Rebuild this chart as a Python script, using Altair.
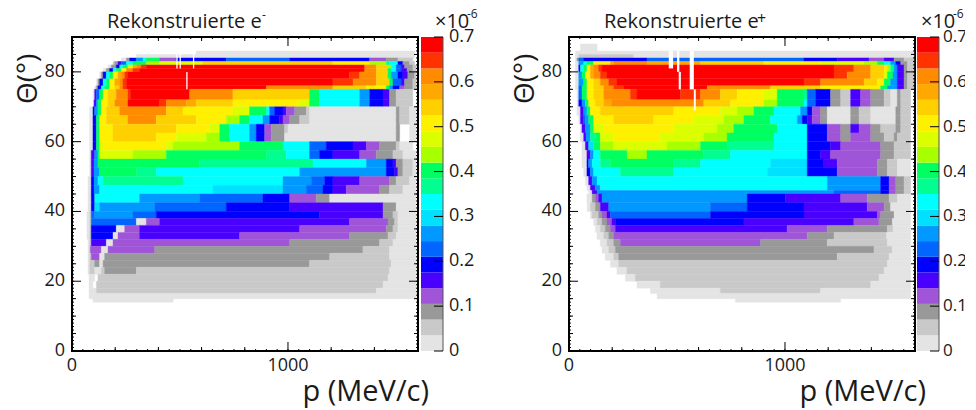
import re
import altair as alt
import pandas as pd

# Colour levels (lowest to highest), each 0.035 x 10^-6 wide
LEVEL_KEYS = list("abcdefghijklmnopqrst")
LEVEL_COLORS = ["#e4e4e4", "#c9c9c9", "#999999", "#a055d8", "#4a00ff", "#0000ff", "#0066ff", "#0099ff",
                "#00e0ff", "#00ffff", "#00ff90", "#00ff60", "#a8ff00", "#dcff00", "#fff000", "#ffd000",
                "#ffa800", "#ff8c00", "#ff3300", "#ff0000"]

# theta band edges (deg) and p runs (MeV/c) "start+level", "." = empty
E_EDGES = [86, 85, 84, 83, 82, 81, 80, 78, 76, 75, 72, 70, 67.5, 65, 62.5, 60, 57.5, 55, 52.5, 50, 47.5, 45, 42.5,
           40, 38, 36, 34, 32, 30, 28, 26, 24, 22, 20, 18, 16.5, 15, 14]
E_RUNS = [
    "575a 1586.",
    "298a 1586.",
    "228a 252c 267f 298h 329j 344l 406d 483f 714g 1008f 1378d 1455c 1509b 1578.",
    "190b 198c 213e 228g 252j 282l 344m 406n 606p 1208o 1378m 1455k 1470j 1509f 1532c 1563b 1586.",
    "167a 182c 205f 221j 236l 259n 282q 300r 320s 344t 1355r 1409p 1463m 1478j 1501g 1524e 1540c 1578b 1594.",
    "144a 159c 174f 190j 205l 228o 252r 282s 313t 1355r 1409p 1463l 1478j 1501g 1524e 1551c 1578b 1594.",
    "128a 136c 144f 159j 174l 190o 213q 228r 244s 259t 1285s 1332r 1409p 1463l 1478h 1509f 1532e 1555c 1586b 1594.",
    "113a 120c 128f 144j 159l 174o 198q 221r 236s 252t 1208s 1301r 1409p 1470l 1486g 1524e 1540c 1578b 1594.",
    "105a 113c 120f 136j 151l 174o 198p 221r 236s 252t 900r 1208p 1363o 1455l 1470h 1486f 1517d 1540c 1578b 1594.",
    "97a 105e 113g 128l 144o 167p 205r 259s 270t 545r 745p 1100l 1146j 1332h 1378f 1440e 1470c 1501b 1578.",
    "97a 102e 113h 120l 136o 167p 198r 259t 406s 437r 529q 575p 745o 1054n 1100l 1146j 1332h 1378f 1440e 1470c 1501b 1578.",
    "82a 97f 105h 120l 136o 159p 221r 437p 514o 745n 822l 900j 915g 938f 977e 992d 1031c 1085b 1100a 1501c 1517b 1563a 1594.",
    "82a 97f 113l 128o 159p 259r 390p 575o 714m 776l 822j 884h 915f 961e 977d 1008c 1054b 1100a 1501c 1517b 1563a 1594.",
    "82a 97f 113l 128o 190p 483o 637n 684l 730j 822h 853f 892d 923c 984b 1000a 1501c 1517. 1563a 1594.",
    "82a 97f 113l 128o 190p 390o 483n 622m 684l 730j 822h 853f 892d 923c 984a 1501c 1517. 1563a 1594.",
    "82a 97f 113l 128n 144o 437n 468m 776l 977j 1100g 1177f 1301e 1363d 1424c 1501b 1517a 1578.",
    "82a 89e 105h 120l 128n 282m 437l 900k 992j 1100g 1146f 1208e 1332d 1409c 1486b 1532a 1594.",
    "82a 89e 102h 120l 591k 1116j 1363h 1455f 1486e 1501c 1532b 1578a 1594.",
    "82a 89e 102h 128l 300k 390j 1054h 1455f 1494e 1509c 1532b 1578a 1594.",
    "74a 89f 102h 120j 144k 514j 977h 1108g 1170f 1208e 1332d 1470c 1501b 1563a 1594.",
    "74a 89f 102h 128j 653i 977h 1085g 1162f 1208e 1270d 1424c 1470b 1532a 1594.",
    "74a 89f 105j 313h 591g 884f 1008d 1131c 1193a 1594.",
    "74a 89f 105i 128h 383g 714f 1008e 1440c 1501a 1594.",
    "69a 82b 89g 105h 282g 390f 1146e 1440c 1486b 1509a 1594.",
    "69a 82b 89g 298a 344d 406e 1285d 1463c 1494b 1509a 1594.",
    "69a 82b 89f 205a 244d 313e 1054d 1455c 1486b 1509a 1594.",
    "69a 82b 89f 190a 213d 313e 776d 1285c 1463b 1501a 1594.",
    "74a 82b 89e 159a 190d 1008c 1424b 1486a 1594.",
    "74a 82b 85d 136a 167d 383c 1347b 1470a 1594.",
    "74a 82b 89d 128a 151c 1193b 1470a 1594.",
    "74a 82b 105c 128a 144c 1100b 1478a 1594.",
    "74a 82b 105a 136b 151c 298b 1470a 1594.",
    "79a 105. 120b 1463a 1594.",
    "79a 97. 113b 1440a 1594.",
    "79a 113b 1409a 1594.",
    "79a 1594.",
    "97a 468.",
]
E_GAPS = [(483, 489, 81, 86), (498, 504, 81, 86), (560, 566, 81, 86), (529, 535, 75, 80)]

P_EDGES = [88, 86, 85, 84, 83, 82, 80, 78, 76, 75, 72, 70, 67.5, 65, 62.5, 60, 57.5, 55, 52.5, 50, 47.5, 46, 45, 42.5,
           40, 38, 36, 34, 32, 30, 28, 26, 24, 22, 20, 18, 16.5, 15, 14]
P_RUNS = [
    "53a 130.",
    "30a 1597.",
    "30a 45b 300a 1597.",
    "30a 37c 45g 68f 361g 1088f 1242e 1389d 1459e 1505c 1551b 1597.",
    "30a 45h 68j 83l 114o 192q 207r 361q 609p 902o 1165n 1366m 1428l 1459j 1489h 1513f 1536c 1567b 1597.",
    "30a 45f 53j 68l 83o 99q 114r 137s 153t 1227s 1319r 1397p 1459o 1474m 1489k 1505h 1520e 1551c 1567b 1597.",
    "30a 45h 60l 76o 99q 114r 145s 176t 1227s 1288r 1397p 1459n 1474l 1500h 1520e 1551c 1567b 1597.",
    "30a 45h 68l 83o 114p 145r 184s 222t 1088s 1165r 1366p 1428o 1459l 1489h 1520e 1551c 1567b 1597.",
    "30a 45g 60l 83o 114p 161r 207s 253t 640r 933p 1165o 1443l 1474h 1520e 1551c 1567b 1597.",
    "37a 45g 60l 83o 114p 161r 284s 315t 516s 609r 701p 779o 902n 964l 1088k 1103g 1142f 1211c 1258b 1304e 1350d 1397c 1459b 1489a 1520c 1536b 1582.",
    "37a 45f 60h 76l 91o 122p 161q 199r 624p 748o 902m 964l 1088j 1103g 1142f 1211c 1258b 1304e 1350d 1397c 1459b 1489a 1520c 1536b 1582.",
    "37a 53e 68h 83l 99o 145p 485o 701n 779m 856l 949j 1072h 1103f 1126d 1165c 1196a 1304c 1343b 1397a 1513c 1536b 1582.",
    "45a 53e 68g 76h 91l 114o 207p 392o 578n 717m 810l 933j 1057h 1080f 1103e 1126d 1165c 1196a 1304c 1343b 1397a 1513c 1536b 1582.",
    "53a 60e 76h 99l 114n 161o 485n 686m 763l 964j 1103f 1196d 1258c 1304e 1343d 1397c 1443b 1513c 1536b 1582.",
    "53a 68e 79h 99k 122l 145n 207o 423n 624m 732l 949j 1103f 1196d 1258c 1304d 1397c 1459b 1505c 1520b 1582.",
    "60a 76e 91i 114l 145m 207n 454m 609l 732k 949j 1103f 1211e 1258d 1443c 1505b 1582.",
    "60a 83e 99h 114j 145l 269m 361l 624k 748j 1103f 1165e 1211d 1443c 1505b 1582.",
    "60a 83f 91h 107j 145k 192l 485k 609j 933i 1103f 1180e 1242d 1428c 1474b 1520a 1582.",
    "68a 83f 99h 114j 238k 485j 918i 1103f 1242d 1428c 1474b 1520a 1582.",
    "76a 91e 107h 130j 1196h 1443f 1482d 1513c 1551b 1582.",
    "83a 99e 122h 145j 1196h 1443f 1482d 1513c 1551b 1582.",
    "91a 107e 130h 1227g 1443f 1482d 1513c 1551b 1582.",
    "83a 107c 122d 137e 153h 825f 1003e 1258d 1381c 1482b 1520a 1582.",
    "84a 99b 122c 145e 184h 655g 825f 1088e 1381d 1459c 1489a 1582.",
    "99a 107b 137c 153d 176e 192g 655f 1088e 1428d 1443c 1505a 1582.",
    "114a 130b 153c 176d 199e 215f 810e 1319d 1435c 1497a 1582.",
    "122a 145b 168c 192d 215e 1010d 1196c 1474b 1500a 1582.",
    "130a 161b 184c 207d 1103c 1227b 1470a 1582.",
    "145a 176b 207c 238d 887c 1196b 1474a 1582.",
    "153a 184b 215c 1412b 1497a 1582.",
    "168a 207b 230c 1242b 1482a 1582.",
    "192a 230b 1474a 1582.",
    "222a 268b 1459a 1582.",
    "261a 307b 1435a 1582.",
    "315a 423b 1397a 1582.",
    "377a 701b 1165a 1582.",
    "408a 1582.",
    "771a 1257.",
]
P_GAPS = [(462, 482, 81, 86), (500, 511, 80, 86), (559, 578, 75, 86), (508, 518, 75, 80), (578, 587, 69, 75)]

X_LABELS = [0, 1000]
Y_LABELS = [0, 20, 40, 60, 80]
X_MAJOR = [1000]
X_MID = [200, 400, 600, 800, 1200, 1400, 1600]
X_MINOR = [p for p in range(50, 1600, 50)]
Y_MAJOR = [20, 40, 60, 80]
Y_MID = [5, 10, 15, 25, 30, 35, 45, 50, 55, 65, 70, 75, 85]
Y_MINOR = list(range(1, 90))
BAR_LABELS = [0, 0.1, 0.2, 0.3, 0.4, 0.5, 0.6, 0.7]

W, H = 346, 314
FONT = "Open Sans"
TXT = "#1a1a1a"
xs = alt.Scale(domain=[0, 1602], nice=False, zero=False)
ys = alt.Scale(domain=[0, 90], nice=False, zero=False)
bs = alt.Scale(domain=[0, 0.7], nice=False, zero=False)
cs = alt.Scale(domain=LEVEL_KEYS, range=LEVEL_COLORS)


def cells(edges, runs):
    out = []
    for top, bot, row in zip(edges[:-1], edges[1:], runs):
        toks = re.findall(r"(\d+)([a-t.])", row)
        for (p0, lv), (p1, _) in zip(toks[:-1], toks[1:]):
            if lv != ".":
                out.append(dict(p0=float(p0), p1=float(p1), t0=bot, t1=top, lvl=lv))
    return pd.DataFrame(out)


def ticks(vals, field, length, side):
    df = pd.DataFrame({field: vals})
    if field == "p":
        a, b = (H, H - length) if side == "near" else (0, length)
        return alt.Chart(df).mark_rule(color="black", strokeWidth=1).encode(
            x=alt.X("p:Q", scale=xs, axis=None), y=alt.value(a), y2=alt.value(b))
    a, b = (0, length) if side == "near" else (W, W - length)
    return alt.Chart(df).mark_rule(color="black", strokeWidth=1).encode(
        y=alt.Y("t:Q", scale=ys, axis=None), x=alt.value(a), x2=alt.value(b))


def label(text, x, y, size, **kw):
    return alt.Chart(pd.DataFrame({"a": [0]})).mark_text(font=FONT, fontSize=size, color=TXT, align=kw.pop("align", "left"), baseline="alphabetic", **kw).encode(
        x=alt.value(x), y=alt.value(y), text=alt.value(text))


def panel(edges, runs, gaps, name, sup, sup_x, sup_y, sup_size):
    df = cells(edges, runs)
    base = alt.Chart(df).mark_rect(strokeWidth=0.4).encode(
        x=alt.X("p0:Q", scale=xs, axis=None),
        x2="p1:Q",
        y=alt.Y("t0:Q", scale=ys, axis=None),
        y2="t1:Q",
        color=alt.Color("lvl:N", scale=cs, legend=None),
        stroke=alt.Stroke("lvl:N", scale=cs, legend=None),
    )
    gdf = pd.DataFrame(gaps, columns=["p0", "p1", "t0", "t1"])
    white = alt.Chart(gdf).mark_rect(color="white").encode(
        x=alt.X("p0:Q", scale=xs, axis=None), x2="p1:Q", y=alt.Y("t0:Q", scale=ys, axis=None), y2="t1:Q")
    layers = [base, white]
    for vals, f, n in [(X_MINOR, "p", 2), (X_MID, "p", 4), (X_MAJOR, "p", 9), (Y_MINOR, "t", 2), (Y_MID, "t", 4), (Y_MAJOR, "t", 9)]:
        layers += [ticks(vals, f, n, "near"), ticks(vals, f, n, "far")]
    xlab = alt.Chart(pd.DataFrame({"p": X_LABELS})).mark_text(font=FONT, fontSize=18, color=TXT, baseline="alphabetic").encode(
        x=alt.X("p:Q", scale=xs, axis=None), y=alt.value(H + 20), text=alt.Text("p:Q", format="d"))
    ylab = alt.Chart(pd.DataFrame({"t": Y_LABELS})).mark_text(font=FONT, fontSize=18, color=TXT, align="right", baseline="middle").encode(
        y=alt.Y("t:Q", scale=ys, axis=None), x=alt.value(-7), text=alt.Text("t:Q", format="d"))
    layers += [
        xlab, ylab,
        label(name, 35, -9, 20),
        label(sup, sup_x, sup_y, sup_size),
        label("p (MeV/c)", 357, 364, 29, align="right"),
        label("Θ(°)", -35, 67, 28, angle=270),
    ]
    return alt.layer(*layers).properties(width=W, height=H, view=alt.ViewBackground(stroke="black", strokeWidth=2))


def colorbar(offset, lab_dx, lab_size, exp_dx):
    n = len(LEVEL_KEYS)
    step = 0.7 / n
    df = pd.DataFrame({"v0": [i * step for i in range(n)], "v1": [(i + 1) * step for i in range(n)], "lvl": LEVEL_KEYS})
    rect = alt.Chart(df).mark_rect().encode(
        x=alt.value(offset), x2=alt.value(offset + 22),
        y=alt.Y("v0:Q", scale=bs, axis=None),
        y2="v1:Q",
        color=alt.Color("lvl:N", scale=cs, legend=None),
    )
    tk = alt.Chart(pd.DataFrame({"v": BAR_LABELS})).mark_rule(color="black").encode(
        y=alt.Y("v:Q", scale=bs, axis=None), x=alt.value(offset + 13), x2=alt.value(offset + 22))
    edge = alt.Chart(pd.DataFrame({"a": [0]})).mark_rule(color="#555555", strokeWidth=1).encode(
        x=alt.value(offset + 22), y=alt.value(0), y2=alt.value(H))
    txt = alt.Chart(pd.DataFrame({"v": BAR_LABELS})).mark_text(font=FONT, fontSize=lab_size, color=TXT, align="left", baseline="middle").encode(
        y=alt.Y("v:Q", scale=bs, axis=None), x=alt.value(offset + lab_dx), text=alt.Text("v:Q", format="~g"))
    return alt.layer(rect, edge, tk, txt, label("×10", offset + exp_dx, -9, 20), label("-6", offset + exp_dx + 32, -19, 12)).properties(width=23, height=H, view=alt.ViewBackground(stroke=None))


spacer = alt.Chart(pd.DataFrame({"a": [0]})).mark_text(text=" ").encode(x=alt.value(0)).properties(width=122, height=H, view=alt.ViewBackground(stroke=None))
chart = alt.hconcat(
    panel(E_EDGES, E_RUNS, E_GAPS, "Rekonstruierte e", "-", 190, -18, 12), colorbar(1, 28, 18, 14), spacer,
    panel(P_EDGES, P_RUNS, P_GAPS, "Rekonstruierte e", "+", 188, -13, 16), colorbar(0, 26, 17, 4),
    spacing=2, bounds="flush",
).properties(padding={"left": 6, "top": 0, "right": -2, "bottom": 0}).configure_view(stroke=None)
chart.save("out.html", embed_options={"renderer": "svg", "actions": False})
